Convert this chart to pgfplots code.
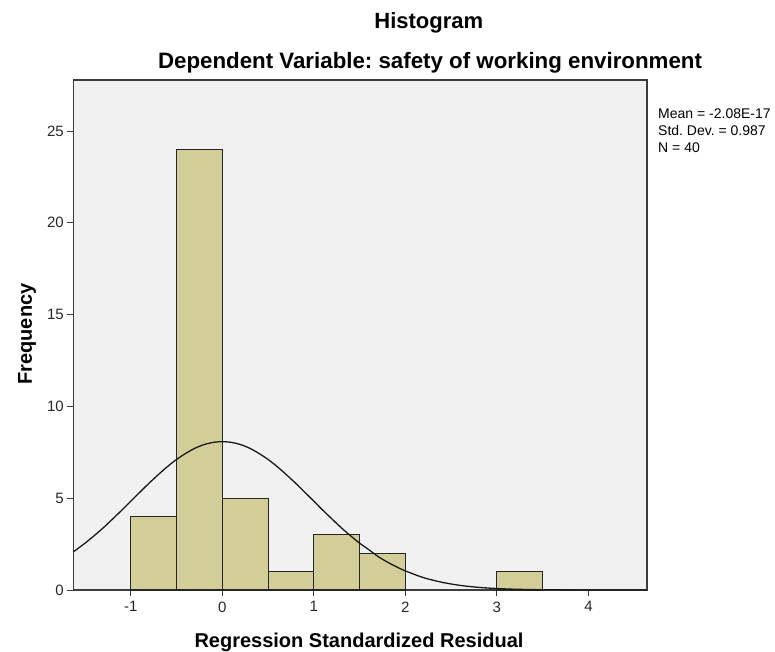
\documentclass[border=0pt]{standalone}
\usepackage{pgfplots}
\pgfplotsset{compat=1.18}
\usepackage{fontspec}
\setmainfont{Liberation Sans}
\definecolor{plotbg}{RGB}{240,241,240}
\definecolor{barfill}{RGB}{211,206,151}
\definecolor{framec}{RGB}{60,60,60}
\frenchspacing
\begin{document}
\begin{tikzpicture}[x=1pt,y=1pt]
\path[use as bounding box] (-73.3,-61) rectangle (701.7,590);
\begin{axis}[
  at={(0,0)}, anchor=south west,
  scale only axis, width=573.7pt, height=510pt,
  xmin=-1.628, xmax=4.64, ymin=0, ymax=27.78,
  axis background/.style={fill=plotbg},
  axis line style={framec, line width=1.1pt},
  xtick={-1,0,1,2,3,4}, ytick={0,5,10,15,20,25},
  tick align=outside, major tick length=6pt,
  tick style={framec, line width=1pt},
  xtick pos=bottom, ytick pos=left,
  ticklabel style={font=\fontsize{15}{18}\selectfont, text=black!85},
  /pgf/number format/assume math mode=true,
  xticklabel style={yshift=-2pt},
  clip=true,
]
\addplot[ybar interval, fill=barfill, draw=black!85, line width=1.1pt]
  coordinates {(-1,4) (-0.5,24) (0,5) (0.5,1) (1,3) (1.5,2) (2,2)};
\addplot[ybar interval, fill=barfill, draw=black!85, line width=1.1pt]
  coordinates {(3,1) (3.5,1)};
\addplot[smooth, black!90, line width=1.3pt] coordinates {
 (-1.64,2.03) (-1.5,2.55) (-1.4,2.96) (-1.3,3.39) (-1.2,3.86) (-1.1,4.34)
 (-1.0,4.84) (-0.9,5.33) (-0.8,5.82) (-0.7,6.28) (-0.6,6.72) (-0.5,7.11)
 (-0.4,7.44) (-0.3,7.72) (-0.2,7.92) (-0.1,8.04) (0,8.08)
 (0.1,8.04) (0.2,7.92) (0.3,7.72) (0.4,7.44) (0.5,7.11) (0.6,6.72)
 (0.7,6.28) (0.8,5.82) (0.9,5.33) (1.0,4.84) (1.1,4.34) (1.2,3.86)
 (1.3,3.39) (1.4,2.96) (1.5,2.55) (1.6,2.20) (1.7,1.83) (1.8,1.53)
 (1.9,1.27) (2.0,1.04) (2.2,0.67) (2.4,0.42) (2.6,0.25) (2.8,0.144)
 (3.0,0.080) (3.2,0.042) (3.5,0.015) (4.0,0.002) (4.64,0)};
\end{axis}
\node[anchor=base, font=\bfseries\fontsize{22}{26}\selectfont] at (355.5,561) {Histogram};
\node[anchor=base, font=\bfseries\fontsize{22.3}{26}\selectfont] at (356.7,521) {Dependent Variable: safety of working environment};
\node[anchor=base west, inner sep=0pt, font=\fontsize{14}{17}\selectfont] at (584.7,471) {Mean = -2.08E-17};
\node[anchor=base west, inner sep=0pt, font=\fontsize{14}{17}\selectfont] at (584.7,454) {Std. Dev. = 0.987};
\node[anchor=base west, inner sep=0pt, font=\fontsize{14}{17}\selectfont] at (584.7,437) {N = 40};
\node[anchor=base, font=\bfseries\fontsize{20}{24}\selectfont] at (285.7,-57) {Regression Standardized Residual};
\node[anchor=base, rotate=90, font=\bfseries\fontsize{20}{24}\selectfont] at (-41.3,256) {Frequency};
\end{tikzpicture}
\end{document}
